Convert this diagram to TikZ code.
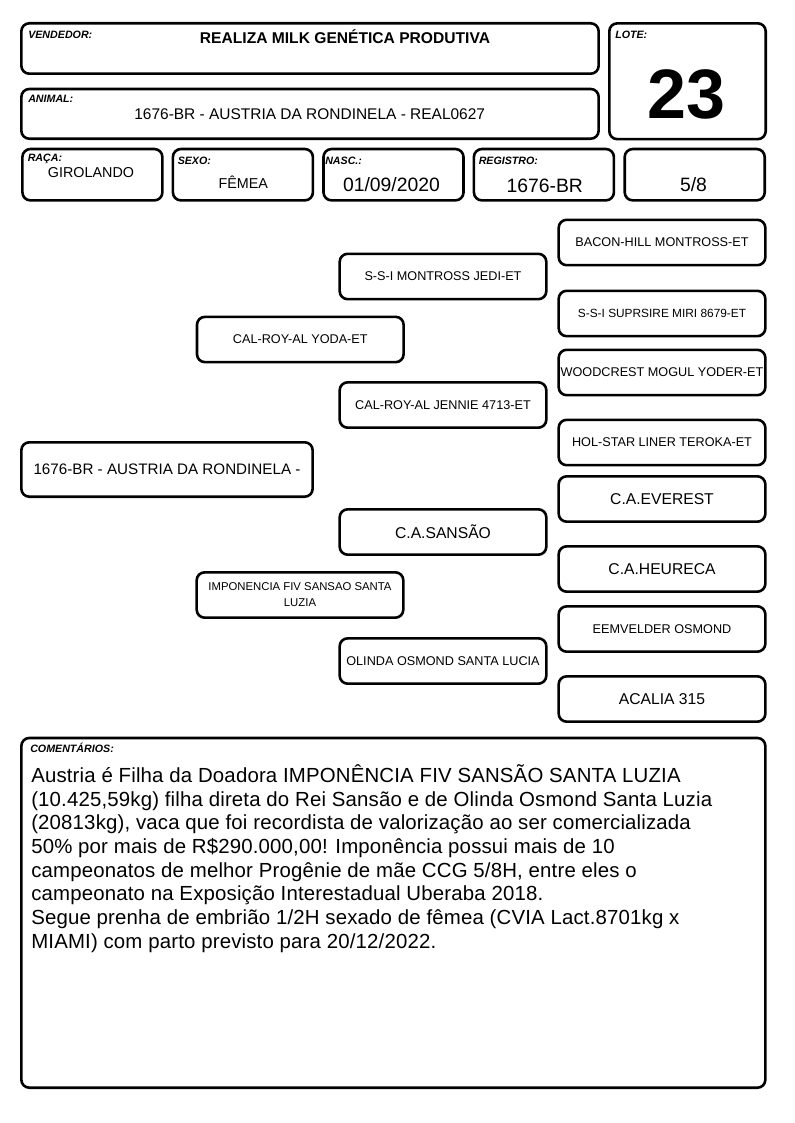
\documentclass[tikz,border=0pt]{standalone}
\usepackage{fontspec}
\setmainfont{Liberation Sans}
\usetikzlibrary{positioning}

\tikzset{
  card/.style={draw=black,line width=1.95pt,rounded corners=6pt,fill=white,inner sep=0pt,align=center},
  tag/.style={anchor=base west,inner sep=0pt,font=\fontsize{8}{9}\selectfont\bfseries\itshape},
  val/.style={anchor=base,inner sep=0pt},
  field/.style={card,minimum width=105pt,minimum height=38.5pt},
  ped/.style={card,minimum width=155pt,minimum height=34pt,font=\fontsize{9.5}{11}\selectfont},
  pedbig/.style={ped,font=\fontsize{11.75}{13}\selectfont}
}

\begin{document}
\begin{tikzpicture}[x=0.75pt,y=-0.75pt]
\useasboundingbox (0,0) rectangle (794,1123);

% cabecalho
\node[card,minimum width=433pt,minimum height=37.8pt] (vendedor) at (310,48.5) {};
\node[card,minimum width=117.3pt,minimum height=86.9pt] (lote) at (687.5,81.25) {};
\node[card,minimum width=433pt,minimum height=37.3pt] (animal) at (310,113.85) {};
\node[field] (raca) at (92.4,174.7) {};
\node[field] (sexo) at (242.9,174.7) {};
\node[field] (nasc) at (393.5,174.7) {};
\node[field] (registro) at (543.9,174.7) {};
\node[field] (grau) at (694.7,174.7) {};

\node[tag] (vendedorlbl) at (28,39) {VENDEDOR:};
\node[tag] (lotelbl) at (615,39) {LOTE:};
\node[tag] (animallbl) at (28,103) {ANIMAL:};
\node[tag] (racalbl) at (27.5,162) {RAÇA:};
\node[tag] (sexolbl) at (177.5,165) {SEXO:};
\node[tag] (nasclbl) at (325,165) {NASC.:};
\node[tag] (registrolbl) at (478.5,165) {REGISTRO:};

\node[val,font=\fontsize{11.7}{13}\selectfont\bfseries] (vendedortxt) at (345,43.3) {REALIZA MILK GENÉTICA PRODUTIVA};
\node[val,font=\fontsize{52.5}{54}\selectfont\bfseries] (lotetxt) at (686,118.3) {23};
\node[val,font=\fontsize{11.6}{13}\selectfont] (animaltxt) at (309.7,119.3) {1676-BR - AUSTRIA DA RONDINELA - REAL0627};
\node[val,font=\fontsize{10.75}{12}\selectfont] (racatxt) at (91,177.7) {GIROLANDO};
\node[val,font=\fontsize{10.75}{12}\selectfont] (sexotxt) at (243.3,189) {FÊMEA};
\node[val,font=\fontsize{14.5}{16}\selectfont] (nasctxt) at (391.5,191.7) {01/09/2020};
\node[val,font=\fontsize{14.5}{16}\selectfont] (registrotxt) at (544.8,192.7) {1676-BR};
\node[val,font=\fontsize{14.5}{16}\selectfont] (grautxt) at (693.5,191.7) {5/8};

% genealogia
\node[card,minimum width=218.5pt,minimum height=40.8pt,font=\fontsize{11.4}{13}\selectfont] (austria) at (167,469.5) {1676-BR - AUSTRIA DA RONDINELA -};

\node[ped] (yoda) at (300.3,339.5) {CAL-ROY-AL YODA-ET};
\node[ped,font=\fontsize{8.5}{12}\selectfont] (imponencia) at (300,595) {IMPONENCIA FIV SANSAO SANTA\\LUZIA};

\node[ped] (jedi) at (443,276.5) {S-S-I MONTROSS JEDI-ET};
\node[ped] (jennie) at (443,405) {CAL-ROY-AL JENNIE 4713-ET};
\node[pedbig] (sansao) at (443,532) {C.A.SANSÃO};
\node[ped] (olinda) at (443,661) {OLINDA OSMOND SANTA LUCIA};

\node[ped] (bacon) at (662,242.5) {BACON-HILL MONTROSS-ET};
\node[ped,font=\fontsize{8.9}{10}\selectfont] (suprsire) at (662,313.5) {S-S-I SUPRSIRE MIRI 8679-ET};
\node[ped] (woodcrest) at (662,372.5) {WOODCREST MOGUL YODER-ET};
\node[ped] (holstar) at (662,442.5) {HOL-STAR LINER TEROKA-ET};
\node[pedbig] (everest) at (662,499) {C.A.EVEREST};
\node[pedbig] (heureca) at (662,569) {C.A.HEURECA};
\node[ped] (eemvelder) at (662,629) {EEMVELDER OSMOND};
\node[pedbig] (acalia) at (662,699) {ACALIA 315};

% comentarios
\node[card,minimum width=558pt,minimum height=262.3pt] (coment) at (393.35,912.85) {};
\node[tag] (comentlbl) at (30,752.7) {COMENTÁRIOS:};
\foreach \linha [count=\i from 0] in {
  {Austria é Filha da Doadora IMPONÊNCIA FIV SANSÃO SANTA LUZIA},
  {(10.425,59kg) filha direta do Rei Sansão e de Olinda Osmond Santa Luzia},
  {(20813kg), vaca que foi recordista de valorização ao ser comercializada},
  {50\% por mais de R\$290.000,00! Imponência possui mais de 10},
  {campeonatos de melhor Progênie de mãe CCG 5/8H, entre eles o},
  {campeonato na Exposição Interestadual Uberaba 2018.},
  {Segue prenha de embrião 1/2H sexado de fêmea (CVIA Lact.8701kg x},
  {MIAMI) com parto previsto para 20/12/2022.}}
  \node[anchor=base west,inner sep=0pt,font=\fontsize{15.3}{17.8}\selectfont\addfontfeatures{LetterSpace=0.8}] (linha\i) at (31,{782.3+23.7*\i}) {\linha};
\end{tikzpicture}
\end{document}
